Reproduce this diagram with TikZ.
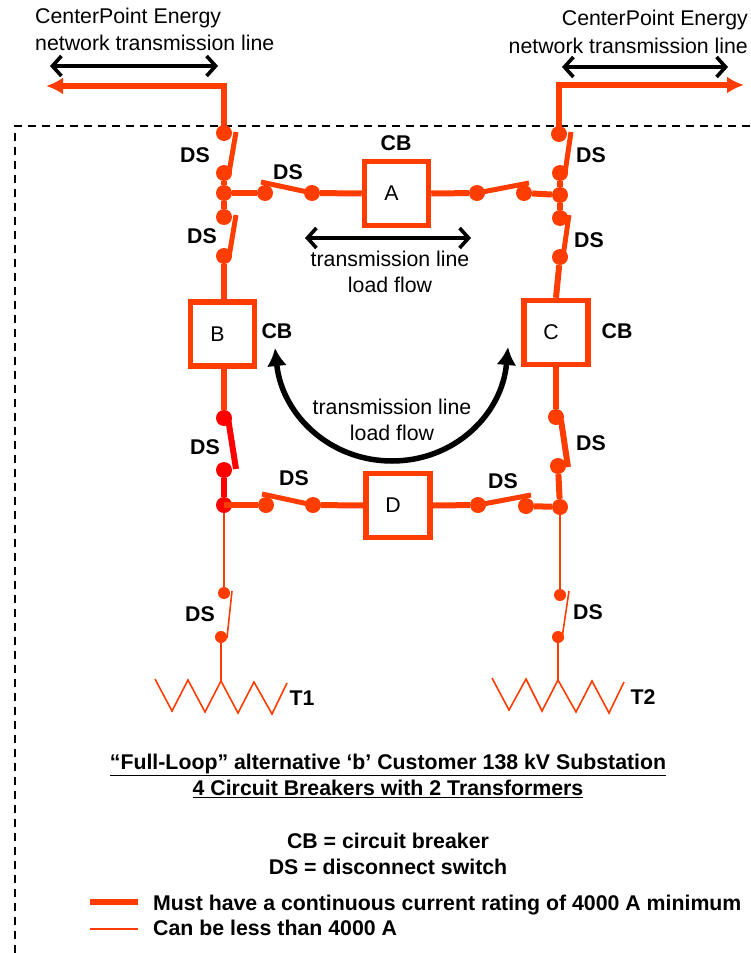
\documentclass[tikz,border=0pt]{standalone}
\usepackage{fontspec}
\setmainfont{Liberation Sans}
\usetikzlibrary{arrows.meta}
\definecolor{busred}{HTML}{FF3D00}
\tikzset{
	bus/.style={draw=busred, line width=6pt},
	busdark/.style={draw=red, line width=6pt},
	feeder/.style={draw=busred, line width=1.6pt},
	dot/.style={circle, fill=busred, inner sep=0pt, minimum size=16pt},
	dotdark/.style={circle, fill=red, inner sep=0pt, minimum size=16pt},
	dotthin/.style={circle, fill=busred, inner sep=0pt, minimum size=12pt},
	breaker/.style={draw=busred, line width=5.5pt, fill=white, minimum size=64pt, inner sep=0pt, label={[xshift=-5pt]center:#1}},
	tag/.style={font=\fontsize{21.3}{26}\selectfont\bfseries, inner sep=0pt},
	plain/.style={font=\fontsize{21.3}{26}\selectfont, inner sep=0pt, align=center},
	flow/.style={draw=black, line width=3.6pt, {Straight Barb[length=9pt,width=20pt]}-{Straight Barb[length=9pt,width=20pt]}}
}
\begin{document}
\begin{tikzpicture}[x=1pt, y=-1pt, font=\fontsize{21.3}{26}\selectfont]
	\useasboundingbox (0, 0) rectangle (750, 953);
	%%%%% BOUNDARY %%%%%
	\draw[line width=1.5pt, dash pattern=on 8pt off 6pt] (750, 126) -- (15, 126) -- (15, 953);

	%%%%% BREAKERS %%%%%
	\node[breaker=A] (brkA) at (396.5, 193.5) {};
	\node[breaker=B] (brkB) at (222.5, 334) {};
	\node[breaker=C] (brkC) at (556, 332.5) {};
	\node[breaker=D] (brkD) at (398, 505.5) {};

	%%%%% SWITCH POINTS %%%%%
	\node[dot] (lineL) at (224, 133) {};
	\node[dot] (lineLb) at (224, 173) {};
	\node[dot] (juncTL) at (224, 193) {};
	\node[dot] (upLa) at (224, 217) {};
	\node[dot] (upLb) at (224, 256) {};
	\node[dot] (topAa) at (265, 193) {};
	\node[dot] (topAb) at (312, 193) {};
	\node[dot] (topAc) at (477, 193) {};
	\node[dot] (topAd) at (524, 193) {};
	\node[dot] (lineR) at (559, 134) {};
	\node[dot] (lineRb) at (560, 173) {};
	\node[dot] (juncTR) at (560, 195) {};
	\node[dot] (upRa) at (560, 218) {};
	\node[dot] (upRb) at (560, 257) {};
	\node[dotdark] (lowLa) at (224, 418) {};
	\node[dotdark] (lowLb) at (224, 470) {};
	\node[dotdark] (juncBL) at (224, 505) {};
	\node[dot] (botDa) at (266, 505) {};
	\node[dot] (botDb) at (313, 505) {};
	\node[dot] (botDc) at (478, 505) {};
	\node[dot] (botDd) at (526, 506) {};
	\node[dot] (lowRa) at (556, 417) {};
	\node[dot] (lowRb) at (558, 466) {};
	\node[dot] (juncBR) at (560, 507) {};
	\node[dotthin] (tapLa) at (224, 593) {};
	\node[dotthin] (tapLb) at (221, 637) {};
	\node[dotthin] (tapRa) at (560, 595) {};
	\node[dotthin] (tapRb) at (558, 637) {};

	%%%%% MAIN LOOP %%%%%
	\coordinate (lineLend) at (47, 86);
	\coordinate (lineLcor) at (224, 86);
	\coordinate (lineRend) at (744, 85);
	\coordinate (lineRcor) at (559, 85);
	\draw[bus, -{Latex[length=17pt,width=17pt]}, shorten >=-1pt] (lineLcor) -- (lineLend);
	\draw[bus, -{Latex[length=17pt,width=17pt]}] (lineRcor) -- (lineRend);
	\draw[bus, line cap=rect] (lineLcor) -- (lineL);
	\draw[bus, line cap=rect] (lineRcor) -- (lineR);
	\draw[bus] (lineLb) -- (juncTL) -- (upLa);
	\draw[bus] (upLb) -- (upLb |- brkB.north);
	\draw[bus] (juncTL) -- (topAa);
	\draw[bus] (topAb) -- (brkA.west);
	\draw[bus] (brkA.east) -- (topAc);
	\draw[bus] (topAd) -- (juncTR);
	\draw[bus] (lineRb) -- (juncTR) -- (upRa);
	\draw[bus] (upRb) -- (brkC.north);
	\draw[bus] (lowLa |- brkB.south) -- (lowLa);
	\draw[bus] (brkC.south) -- (lowRa);
	\draw[busdark] (lowLb) -- (juncBL);
	\draw[bus] (juncBL.center) -- (botDa);
	\draw[bus] (botDb) -- (brkD.west);
	\draw[bus] (brkD.east) -- (botDc);
	\draw[bus] (botDd) -- (juncBR);
	\draw[bus] (lowRb) -- (juncBR);

	%%%%% BLADES %%%%%
	\draw[bus, line width=5pt] (236, 132) -- (229, 173);
	\draw[bus, line width=5pt] (236, 215) -- (229, 257);
	\draw[bus, line width=5pt] (261, 182) -- (topAb.center);
	\draw[bus, line width=5pt] (topAc.center) -- (529, 183);
	\draw[bus, line width=5pt] (571, 132) -- (565, 173);
	\draw[bus, line width=5pt] (569, 215) -- (563, 257);
	\draw[busdark] (228, 418) -- (236, 469);
	\draw[bus, line width=5pt] (262, 494) -- (botDb.center);
	\draw[bus, line width=5pt] (botDc.center) -- (531, 495);
	\draw[bus] (561, 420) -- (568, 467);

	%%%%% TRANSFORMER FEEDS %%%%%
	\draw[feeder] (juncBL) -- (tapLa);
	\draw[feeder] (232, 591) -- (227, 638) -- (tapLb);
	\draw[feeder] (tapLb) -- (221, 681);
	\draw[feeder] (juncBR) -- (tapRa);
	\draw[feeder] (569, 591) -- (562, 638) -- (tapRb);
	\draw[feeder] (tapRb) -- (558, 680);
	\draw[feeder] (155, 679) -- (172, 711) -- (188, 680) -- (205, 712) -- (221, 681) -- (238, 713) -- (254, 682) -- (272, 714) -- (287, 683);
	\draw[feeder] (492, 678) -- (509, 710) -- (526, 679) -- (542, 711) -- (558, 680) -- (576, 712) -- (592, 681) -- (609, 713) -- (624, 682);

	%%%%% FLOW ARROWS %%%%%
	\draw[flow] (50, 66) -- (218, 66);
	\draw[flow] (562, 67) -- (728, 67);
	\draw[flow] (305, 238) -- (471, 238);
	\draw[draw=black, line width=5.5pt, {Latex[length=18pt,width=20pt]}-{Latex[length=18pt,width=20pt]}]
		(275, 348) .. controls (282, 415) and (330, 461) .. (392, 461) .. controls (454, 461) and (502, 415) .. (508, 347);

	%%%%% LABELS %%%%%
	\node[plain, anchor=west] (netL) at (35, 18) {CenterPoint Energy};
	\node[plain, anchor=west] (netLb) at (35, 43) {network transmission line};
	\node[plain, anchor=east] (netR) at (748, 20) {CenterPoint Energy};
	\node[plain, anchor=east] (netRb) at (748, 46) {network transmission line};
	\node[plain] (flowTop) at (390, 272) {transmission line\\[0pt]load flow};
	\node[plain] (flowBot) at (392, 420) {transmission line\\[0pt]load flow};

	\node[tag] (cbA) at (396, 143) {CB};
	\node[tag] (cbB) at (277, 331) {CB};
	\node[tag] (cbC) at (617, 331) {CB};
	\node[tag] (dsA) at (195, 155) {DS};
	\node[tag] (dsB) at (288, 172) {DS};
	\node[tag] (dsC) at (202, 236) {DS};
	\node[tag] (dsD) at (591, 155) {DS};
	\node[tag] (dsE) at (589, 240) {DS};
	\node[tag] (dsF) at (205, 447) {DS};
	\node[tag] (dsG) at (294, 478) {DS};
	\node[tag] (dsH) at (503, 481) {DS};
	\node[tag] (dsI) at (591, 443) {DS};
	\node[tag] (dsJ) at (200, 614) {DS};
	\node[tag] (dsK) at (588, 612) {DS};
	\node[tag] (tfA) at (302, 698) {T1};
	\node[tag] (tfB) at (643, 697) {T2};

	\node[tag, align=center] (title) at (388, 776) {\underline{“Full-Loop” alternative ‘b’ Customer 138 kV Substation}\\[0pt]\underline{4 Circuit Breakers with 2 Transformers}};
	\node[tag, align=center] (key) at (388, 854) {CB = circuit breaker\\[0pt]DS = disconnect switch};

	%%%%% LEGEND %%%%%
	\coordinate (keyAa) at (90, 902);
	\coordinate (keyAb) at (138, 902);
	\coordinate (keyBa) at (90, 929);
	\coordinate (keyBb) at (138, 929);
	\draw[bus] (keyAa) -- (keyAb);
	\draw[feeder] (keyBa) -- (keyBb);
	\node[tag, anchor=west] (keyA) at (153, 905) {Must have a continuous current rating of 4000 A minimum};
	\node[tag, anchor=west] (keyB) at (153, 928) {Can be less than 4000 A};
\end{tikzpicture}
\end{document}
